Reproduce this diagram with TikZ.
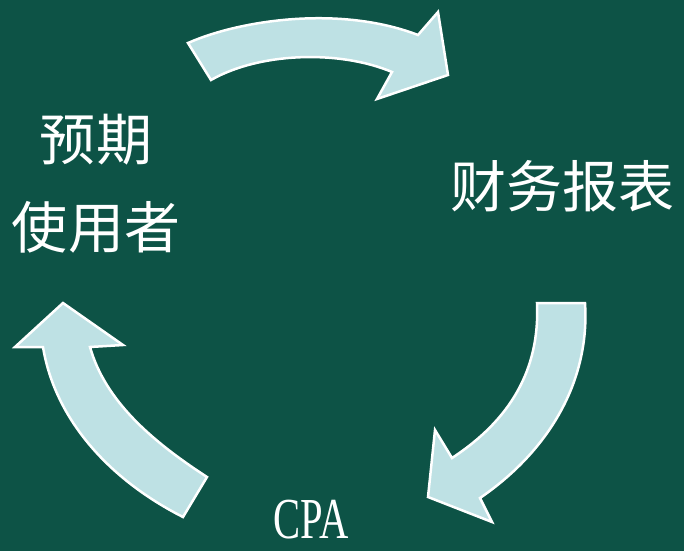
\documentclass[tikz,border=0pt]{standalone}
\usepackage{fontspec}
\setmainfont{Liberation Serif}
\newfontfamily\cjk{Noto Sans CJK SC}
\usetikzlibrary{positioning}

\definecolor{boardgreen}{RGB}{13,83,70}
\definecolor{arrowblue}{RGB}{190,225,228}

\begin{document}
\begin{tikzpicture}[
    x=1pt, y=-1pt,
    label/.style={text=white, inner sep=0pt, align=center,
                  font=\cjk\fontsize{56}{88}\selectfont},
    bigarrow/.style={fill=arrowblue, draw=white, line width=2.5pt,
                     line join=miter}
  ]

  % Background
  \fill[boardgreen] (0,0) rectangle (684,551);

  % Labels
  \node[label] (users) at (96,184) {预期\\使用者};
  \node[label] (report) at (562,186) {财务报表};
  \node[text=white, inner sep=0pt, xscale=0.7,
        font=\fontsize{58}{58}\selectfont] (cpa) at (311,520) {CPA};

  % Arrows
  % users -> report
  \draw[bigarrow] (188,43) .. controls (240,20) and (340,5) .. (418,35)
    -- (438,12) -- (448,75) -- (377,99) -- (392,72)
    .. controls (340,50) and (260,52) .. (211,80) -- cycle;
  % report -> cpa
  \draw[bigarrow] (537,303) -- (585,303)
    .. controls (590,380) and (550,450) .. (480,498)
    -- (492,522) -- (428,497) -- (435,430) -- (452,458)
    .. controls (510,420) and (540,370) .. (537,303) -- cycle;
  % cpa -> users
  \draw[bigarrow] (183,517) -- (207,477)
    .. controls (150,440) and (105,400) .. (90,347)
    -- (123,345) -- (63,303) -- (15,347) -- (43,347)
    .. controls (55,420) and (110,480) .. (183,517) -- cycle;

\end{tikzpicture}
\end{document}
